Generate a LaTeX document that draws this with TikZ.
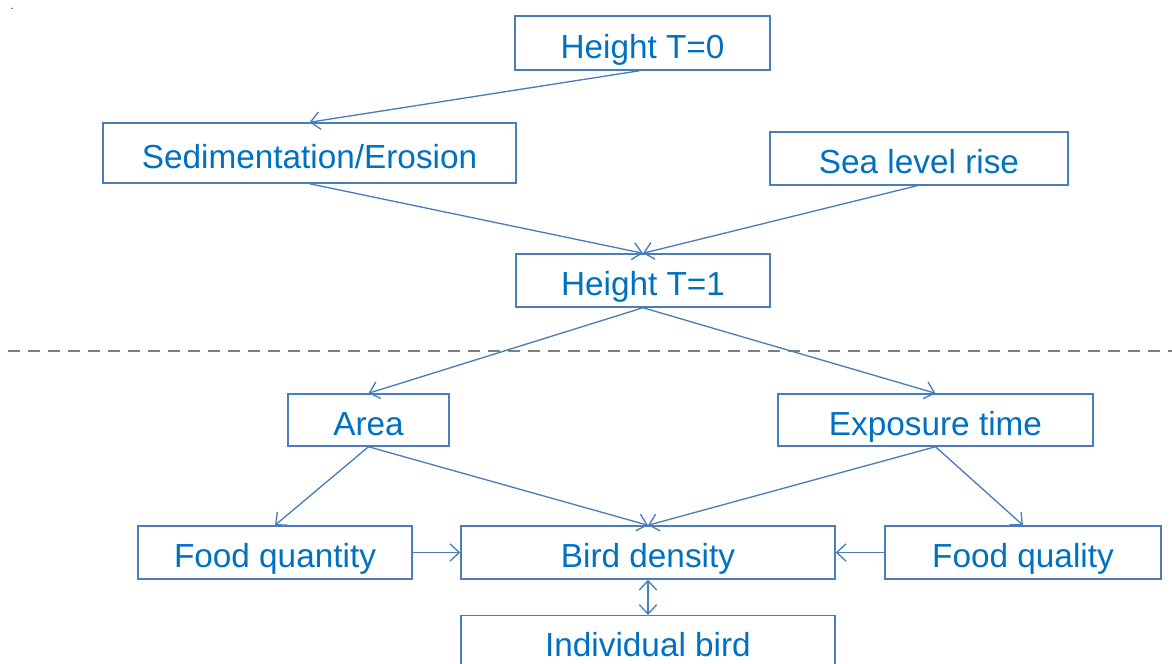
\documentclass[tikz,border=0pt]{standalone}
\usepackage{fontspec}
\setmainfont{Liberation Sans}
\usetikzlibrary{arrows.meta}
\definecolor{boxline}{HTML}{4A7EBB}
\definecolor{boxtext}{HTML}{0070C0}
\tikzset{
  lbl/.style={text=boxtext, font=\fontsize{25}{30}\selectfont, inner sep=0pt,
    text height=22.5pt, text depth=0pt, anchor=center},
  box/.style={lbl, draw=boxline, line width=1.1pt},
  conn/.style={draw=boxline, line width=1pt, -{Straight Barb[length=7pt,width=13pt,line width=1pt]}},
  conn2/.style={draw=boxline, line width=1pt, {Straight Barb[length=7pt,width=13pt,line width=1pt]}-{Straight Barb[length=7pt,width=13pt,line width=1pt]}}
}
\begin{document}
\begin{tikzpicture}[x=0.75pt,y=-0.75pt]
\useasboundingbox (0,0) rectangle (1172,664);
\node[font=\fontsize{8}{8}\selectfont, inner sep=0pt] (dot) at (12,9) {.};
\node[box, minimum width=255*0.75pt, minimum height=54*0.75pt] (h0) at (642.5,43) {Height T=0};
\node[box, minimum width=413*0.75pt, minimum height=60*0.75pt] (sed) at (309.5,153) {Sedimentation/Erosion};
\node[box, minimum width=298*0.75pt, minimum height=53*0.75pt] (sea) at (919,158.5) {Sea level rise};
\node[box, minimum width=254*0.75pt, minimum height=53*0.75pt] (h1) at (643,280.5) {Height T=1};
\node[box, minimum width=161*0.75pt, minimum height=52*0.75pt] (area) at (368.5,420) {Area};
\node[box, minimum width=315*0.75pt, minimum height=52*0.75pt] (exp) at (935.5,420) {Exposure time};
\node[box, minimum width=274*0.75pt, minimum height=53*0.75pt] (fqn) at (275,552.5) {Food quantity};
\node[box, minimum width=374*0.75pt, minimum height=53*0.75pt] (bd) at (648,552.5) {Bird density};
\node[box, fill=white, minimum width=374*0.75pt, minimum height=60*0.75pt, anchor=north] (ib) at (648,615) {};
\node[lbl] (ibt) at (648,641) {Individual bird};

\draw[dashed, draw=gray, line width=1pt, dash pattern=on 9pt off 6pt] (8,351) coordinate (dl) -- (1172,351) coordinate (dr);

\node[box, minimum width=276*0.75pt, minimum height=53*0.75pt] (fql) at (1023,552.5) {Food quality};

\draw[conn] (h0.south) ++(-3,0) coordinate (a0) -- (sed.north);
\draw[conn] (sed.south) -- (h1.north);
\draw[conn] (sea.south) ++(-2,0) coordinate (a1) -- (h1.north);
\draw[conn] (h1.south) -- (area.north);
\draw[conn] (h1.south) -- (exp.north);
\draw[conn] (area.south) -- (fqn.north);
\draw[conn] (area.south) -- (bd.north);
\draw[conn] (exp.south) -- (bd.north);
\draw[conn] (exp.south) -- (fql.north);
\draw[conn] (fqn.east) -- (bd.west);
\draw[conn] (fql.west) -- (bd.east);
\draw[conn2] (bd.south) -- (ib.north);
\end{tikzpicture}
\end{document}
